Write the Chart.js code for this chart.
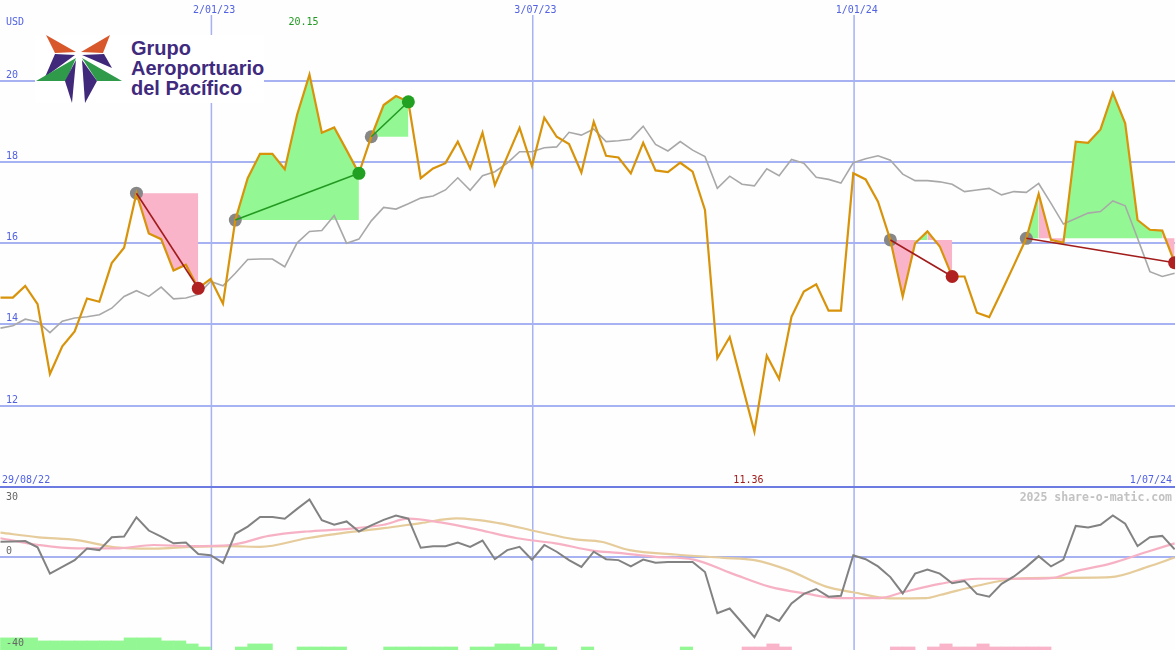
<!DOCTYPE html>
<html><head><meta charset="utf-8">
<script src="https://cdn.jsdelivr.net/npm/chart.js@4.4.1/dist/chart.umd.min.js"></script>
<style>
html,body{margin:0;padding:0;background:#fdfefd;overflow:hidden;}
#wrap{position:relative;width:1175px;height:650px;background:#fdfefd;}
#c1{position:absolute;left:0;top:0;}
#c2{position:absolute;left:0;top:487px;}
#divider{position:absolute;left:0;top:486px;width:1175px;height:2px;background:#6b7be2;}
#logo{position:absolute;left:35px;top:35px;width:229px;height:68px;background:#ffffff;}
</style></head>
<body>
<div id="wrap">
<canvas id="c1" width="1175" height="487"></canvas>
<canvas id="c2" width="1175" height="163"></canvas>
<div id="divider"></div>
<div id="logo">
<svg width="229" height="68" xmlns="http://www.w3.org/2000/svg">
<polygon points="11,0 41,17 20,18" fill="#d9582b"/>
<polygon points="75,0 46,17 68,18" fill="#d9582b"/>
<polygon points="20,19 40,20 10,42" fill="#40287a"/>
<polygon points="47,20 69,19 77,33" fill="#40287a"/>
<polygon points="1,46 41,23 31,46" fill="#2e9a4a"/>
<polygon points="87,46 47,23 62,46" fill="#2e9a4a"/>
<polygon points="30,46 41,25 37,68" fill="#40287a"/>
<polygon points="47,25 62,46 50,68" fill="#40287a"/>
<text x="96" y="19.5" font-family="Liberation Sans, Arial, sans-serif" font-weight="bold" font-size="20" fill="#3f2a7e">Grupo</text>
<text x="96" y="39.5" font-family="Liberation Sans, Arial, sans-serif" font-weight="bold" font-size="20" fill="#3f2a7e">Aeroportuario</text>
<text x="96" y="59.5" font-family="Liberation Sans, Arial, sans-serif" font-weight="bold" font-size="20" fill="#3f2a7e">del Pacífico</text>
</svg>
</div>
</div>
<script>
// ---------- DATA ----------
const currency = 'USD';
const startLabel = '29/08/22';
const endLabel = '1/07/24';
const dateLabels = ['2/01/23', '3/07/23', '1/01/24'];
const dateIdx = [17, 43, 69];
const priceTicks = [12, 14, 16, 18, 20];
const momTicks = [30, 0, -40];
const copyright = '2025 share-o-matic.com';

// weekly closing price (GAP, USD)
const price = [14.66,14.66,14.95,14.50,12.78,13.46,13.83,14.64,14.56,15.51,
  15.89,17.23,16.24,16.10,15.33,15.47,14.89,15.12,14.51,16.57,
  17.60,18.20,18.20,17.82,19.16,20.15,18.72,18.85,18.29,17.72,
  18.62,19.40,19.62,19.48,17.60,17.84,17.97,18.50,17.84,18.72,
  17.43,18.13,18.84,17.90,19.09,18.62,18.44,17.74,18.99,18.15,
  18.11,17.72,18.47,17.79,17.75,17.98,17.76,16.82,13.17,13.69,
  12.52,11.36,13.23,12.66,14.19,14.81,14.99,14.34,14.34,17.72,
  17.57,17.02,16.08,14.69,16.00,16.29,15.92,15.18,15.18,14.29,
  14.18,14.81,15.46,16.12,17.21,16.08,16.01,18.50,18.47,18.80,
  19.70,18.95,16.57,16.33,16.31,15.52];

// relative index line (grey)
const indexLine = [13.91,13.97,14.13,14.07,13.80,14.08,14.16,14.19,14.24,14.40,
  14.69,14.83,14.69,14.92,14.63,14.65,14.74,15.06,14.95,15.26,
  15.60,15.61,15.61,15.42,16.01,16.29,16.31,16.68,16.00,16.10,
  16.55,16.88,16.84,16.97,17.11,17.16,17.31,17.61,17.30,17.66,
  17.76,17.97,18.25,18.25,18.35,18.37,18.73,18.66,18.81,18.50,
  18.52,18.56,18.88,18.43,18.27,18.50,18.29,18.13,17.35,17.65,
  17.45,17.41,17.83,17.66,18.06,17.97,17.62,17.57,17.48,17.98,
  18.08,18.15,18.04,17.70,17.54,17.54,17.51,17.45,17.27,17.31,
  17.35,17.19,17.27,17.25,17.47,16.98,16.47,16.61,16.74,16.78,
  17.04,16.92,16.12,15.30,15.18,15.26];

// signals
const sigStart = [11, 19, 30, 72, 83];
const sigEnd   = [16, 29, 33, 77, 95];
const sigType  = ['sell', 'buy', 'buy', 'sell', 'sell'];

// lower panel: momentum
const momentum = [6.5,6.6,6.8,4.1,-7.2,-4.3,-1.4,3.6,2.9,8.4,
  8.7,17.0,11.3,8.7,5.8,6.2,1.2,0.7,-2.6,9.9,
  13.0,17.1,17.1,16.4,20.6,24.6,15.7,13.8,15.2,10.9,
  13.5,15.9,17.7,16.4,3.9,4.6,4.6,6.1,4.3,7.0,
  -1.0,2.9,4.3,-1.2,5.1,2.2,-1.4,-4.3,2.2,-1.0,
  -1.4,-4.1,-1.2,-2.5,-2.2,-2.2,-2.2,-6.5,-24.2,-22.2,
  -28.3,-34.5,-24.9,-27.5,-20.0,-15.9,-13.8,-17.1,-16.7,0.7,
  -1.0,-4.1,-8.7,-15.7,-7.2,-5.4,-7.2,-11.3,-10.4,-15.9,
  -17.1,-11.6,-8.4,-4.3,0.3,-4.1,-1.2,13.3,12.6,13.8,
  17.8,14.2,4.6,8.4,9.0,3.2];

// smoothed averages read at [week, value]
const pinkMA = [[0,8.0],[3.1,5.1],[6.2,3.6],[9.3,3.6],[12.4,5.1],[15.5,4.6],[18.6,5.1],[21.7,9.0],
  [24.8,10.9],[27.9,11.9],[31,13.8],[33,16.4],[35.6,14.8],[38.7,11.6],[41.8,8.0],[44.9,5.8],
  [48,2.6],[50,1.7],[53,0],[56.1,-1.2],[59.2,-7.2],[62.2,-12.8],[65.3,-15.9],[67.7,-17.7],
  [71.1,-17.7],[73,-15.2],[76,-11.6],[79.1,-9.4],[82.1,-9.4],[85.2,-9.0],[86.7,-6.5],
  [89.8,-2.9],[92.8,2.2],[95,5.8]];
const tanMA = [[0,10.4],[3.1,8.4],[6.2,7.2],[9.3,4.1],[12.4,3.5],[15.5,4.3],[18.6,4.6],[21,4.3],
  [24.8,8.0],[27.9,10.4],[31,12.3],[34,14.5],[36.9,16.5],[40.3,14.5],[43.4,10.9],[46.5,7.5],
  [48.6,6.5],[50.9,2.9],[54.6,1.0],[58.5,-0.4],[61,-1.4],[63.8,-5.8],[66.8,-12.8],[69,-15.2],
  [72,-17.8],[74.9,-17.7],[76,-16.4],[79.1,-12.3],[82.1,-9.4],[85.2,-9.0],[89.8,-8.7],
  [92.8,-4.3],[95,-0.3]];

// bottom histogram (+ green, - pink), height in panel units
const barLevel = [5.2,5.2,5.2,3.9,3.9,3.9,3.9,3.9,3.9,3.9,
  5.2,5.2,5.2,3.9,3.9,2.6,1.3,0,0,1.3,
  2.6,2.6,0,0,1.3,1.3,1.3,1.3,0,0,
  0,1.3,1.3,1.3,1.3,1.3,1.3,0,1.3,1.3,
  2.6,2.6,1.3,2.6,1.3,0,0,1.3,0,0,
  0,0,0,0,0,1.3,0,0,0,0,
  -1.3,-1.3,-2.6,-1.3,0,0,0,0,0,0,
  0,0,-1.3,-1.3,0,-1.3,-2.6,-1.3,-1.3,-2.6,
  -1.3,-1.3,-1.3,-1.3,-1.3,0,0,0,0,0,
  0,0,0,0,0,0];

// ---------- STYLE ----------
const BG = '#fdfefd';
const GRID = '#a6b2f2';
const LBL = '#5262e2';
const GREEN_FILL = '#93f893';
const PINK_FILL = '#f9b4c9';
const xMin = -0.04, xMax = 95.03;
const FONT = '10px "DejaVu Sans Mono", monospace';

Chart.defaults.font.family = 'DejaVu Sans Mono';

// ---------- TOP CHART ----------
const topDatasets = [];
sigStart.forEach((s, k) => {
  const e = sigEnd[k], level = price[s];
  const pts = [];
  for (let i = s; i <= e; i++) pts.push({x: i, y: price[i]});
  topDatasets.push({
    type: 'line', data: pts, borderColor: 'rgba(0,0,0,0)', borderWidth: 0, pointRadius: 0,
    backgroundColor: GREEN_FILL, fill: {value: level},
    segment: {backgroundColor: c => (c.p1.parsed.y >= level ? GREEN_FILL : PINK_FILL)},
    order: 30
  });
});
topDatasets.push({
  type: 'line', data: indexLine.map((v, i) => ({x: i, y: v})),
  borderColor: '#a8a8a8', borderWidth: 1.6, pointRadius: 0, fill: false, order: 20
});
topDatasets.push({
  type: 'line', showLine: false,
  data: sigStart.map(s => ({x: s, y: price[s]})),
  pointRadius: 6.5, pointBackgroundColor: '#878787', pointBorderWidth: 0, order: 15
});
topDatasets.push({
  type: 'line', data: price.map((v, i) => ({x: i, y: v})),
  borderColor: '#d8930a', borderWidth: 2.2, pointRadius: 0, fill: false, order: 10
});
sigStart.forEach((s, k) => {
  const e = sigEnd[k];
  const sell = sigType[k] === 'sell';
  topDatasets.push({
    type: 'line', data: [{x: s, y: price[s]}, {x: e, y: price[e]}],
    borderColor: sell ? '#a21c1c' : '#229a22', borderWidth: 1.6,
    pointRadius: [0, 6.5], pointBackgroundColor: sell ? '#b02020' : '#22a022', pointBorderWidth: 0,
    fill: false, order: 1
  });
});

const topDeco = {
  id: 'topDeco',
  beforeDraw(chart) {
    const c = chart.ctx;
    c.save(); c.fillStyle = BG; c.fillRect(0, 0, chart.width, chart.height); c.restore();
  },
  beforeDatasetsDraw(chart) {
    const c = chart.ctx, y = chart.scales.y, x = chart.scales.x;
    c.save();
    c.strokeStyle = GRID;
    c.lineWidth = 2;
    priceTicks.forEach(t => {
      const py = Math.round(y.getPixelForValue(t));
      c.beginPath(); c.moveTo(0, py); c.lineTo(chart.width, py); c.stroke();
    });
    c.lineWidth = 1.5;
    dateIdx.forEach(d => {
      const px = x.getPixelForValue(d) + 0.8;
      c.beginPath(); c.moveTo(px, 15); c.lineTo(px, chart.height); c.stroke();
    });
    c.restore();
  },
  afterDatasetsDraw(chart) {
    const c = chart.ctx, y = chart.scales.y, x = chart.scales.x;
    c.save();
    c.font = FONT;
    c.fillStyle = LBL;
    c.textAlign = 'left'; c.textBaseline = 'alphabetic';
    priceTicks.forEach(t => {
      const py = Math.round(y.getPixelForValue(t));
      c.fillText(String(t), 6, py - 3);
    });
    c.fillText(currency, 6, 25);
    c.textAlign = 'center';
    dateIdx.forEach((d, k) => {
      c.fillText(dateLabels[k], x.getPixelForValue(d) + 3.5, 12.5);
    });
    c.textAlign = 'left';
    c.fillText(startLabel, 2, 483);
    c.textAlign = 'right';
    c.fillText(endLabel, 1172, 483);
    let mx = 0, mn = 0;
    price.forEach((v, i) => { if (v > price[mx]) mx = i; if (v < price[mn]) mn = i; });
    c.textAlign = 'center';
    c.fillStyle = '#229922';
    c.fillText(price[mx].toFixed(2), x.getPixelForValue(mx) - 6, 25);
    c.fillStyle = '#a01c1c';
    c.fillText(price[mn].toFixed(2), x.getPixelForValue(mn) - 6, 483);
    c.restore();
  }
};

new Chart(document.getElementById('c1'), {
  type: 'line',
  data: {datasets: topDatasets},
  options: {
    responsive: false, animation: false, devicePixelRatio: 1,
    layout: {padding: 0, autoPadding: false},
    plugins: {legend: {display: false}, tooltip: {enabled: false}},
    elements: {line: {tension: 0}},
    scales: {
      x: {type: 'linear', display: false, offset: false, min: xMin, max: xMax},
      y: {type: 'linear', display: false, min: 10.0, max: 21.985}
    }
  },
  plugins: [topDeco]
});

// ---------- LOWER CHART ----------
const barData = [], barColors = [];
barLevel.forEach((h, i) => {
  if (h !== 0) {
    barData.push({x: i + 0.5, y: [-40, -40 + Math.abs(h)]});
    barColors.push(h > 0 ? GREEN_FILL : PINK_FILL);
  }
});

const lowDeco = {
  id: 'lowDeco',
  beforeDraw(chart) {
    const c = chart.ctx;
    c.save(); c.fillStyle = BG; c.fillRect(0, 0, chart.width, chart.height); c.restore();
  },
  beforeDatasetsDraw(chart) {
    const c = chart.ctx, y = chart.scales.y, x = chart.scales.x;
    c.save();
    c.strokeStyle = GRID;
    c.lineWidth = 2;
    const py = Math.round(y.getPixelForValue(0));
    c.beginPath(); c.moveTo(0, py); c.lineTo(chart.width, py); c.stroke();
    c.lineWidth = 1.5;
    dateIdx.forEach(d => {
      const px = x.getPixelForValue(d) + 0.8;
      c.beginPath(); c.moveTo(px, 0); c.lineTo(px, chart.height); c.stroke();
    });
    c.restore();
  },
  afterDatasetsDraw(chart) {
    const c = chart.ctx;
    c.save();
    c.font = FONT;
    c.fillStyle = '#666666';
    c.textAlign = 'left'; c.textBaseline = 'alphabetic';
    c.fillText(String(momTicks[0]), 6, 13);
    c.fillText(String(momTicks[1]), 6, 67);
    c.fillText(String(momTicks[2]), 6, 159);
    c.font = 'bold 11.5px "DejaVu Sans Mono", monospace';
    c.fillStyle = '#c2c2c2';
    c.textAlign = 'right';
    c.fillText(copyright, 1172, 13.5);
    c.restore();
  }
};

new Chart(document.getElementById('c2'), {
  type: 'line',
  data: {
    datasets: [
      {type: 'bar', data: barData, backgroundColor: barColors, borderWidth: 0,
       barPercentage: 1, categoryPercentage: 1, order: 30},
      {type: 'line', data: tanMA.map(p => ({x: p[0], y: p[1]})), borderColor: '#e6cb9b',
       borderWidth: 2.2, pointRadius: 0, cubicInterpolationMode: 'monotone', fill: false, order: 20},
      {type: 'line', data: pinkMA.map(p => ({x: p[0], y: p[1]})), borderColor: '#f7b1c5',
       borderWidth: 2.2, pointRadius: 0, cubicInterpolationMode: 'monotone', fill: false, order: 15},
      {type: 'line', data: momentum.map((v, i) => ({x: i, y: v})), borderColor: '#828282',
       borderWidth: 2, pointRadius: 0, fill: false, order: 1}
    ]
  },
  options: {
    responsive: false, animation: false, devicePixelRatio: 1,
    layout: {padding: 0, autoPadding: false},
    plugins: {legend: {display: false}, tooltip: {enabled: false}},
    elements: {line: {tension: 0}},
    scales: {
      x: {type: 'linear', display: false, offset: false, min: xMin, max: xMax, ticks: {stepSize: 10}},
      y: {type: 'linear', display: false, min: -40, max: 30}
    }
  },
  plugins: [lowDeco]
});
</script>
</body></html>
